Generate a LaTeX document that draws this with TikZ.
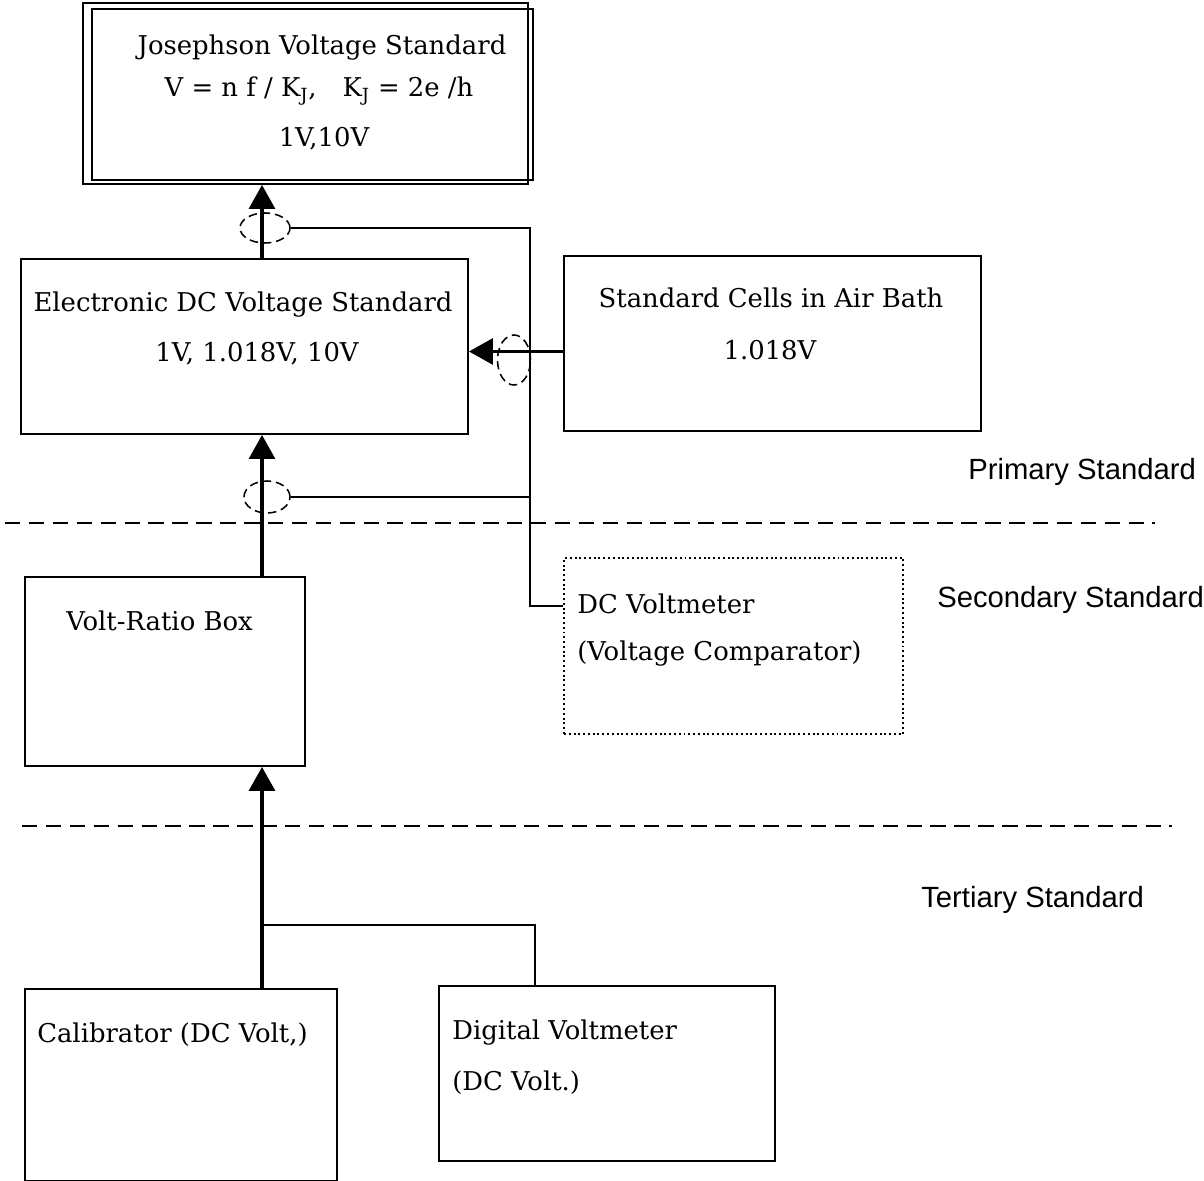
\documentclass[tikz,border=0pt]{standalone}
\usepackage{fontspec}
\setmainfont{DejaVu Serif}
\newfontfamily\lvlfont{Liberation Sans}
\usetikzlibrary{arrows.meta,shapes.geometric,calc}

\tikzset{
  box/.style={draw, line width=1.4pt, anchor=north west, inner sep=0pt},
  boxsize/.style 2 args={minimum width=#1*0.025cm, minimum height=#2*0.025cm},
  txt/.style={inner sep=0pt, font=\fontsize{18.4}{22}\selectfont},
  lvl/.style={inner sep=0pt, anchor=base west, font=\lvlfont\fontsize{20.8}{24}\selectfont},
  ring/.style={draw, ellipse, inner sep=0pt, line width=1.1pt, dash pattern=on 6pt off 3.5pt},
  arr/.style={line width=2.2pt, -{Triangle[length=0.6cm, width=0.65cm]}},
  wire/.style={line width=1.1pt},
  sepline/.style={line width=1.3pt, dash pattern=on 11pt off 6pt},
}

\begin{document}
\begin{tikzpicture}[x=0.025cm, y=-0.025cm]
    \useasboundingbox (0,0) rectangle (1204,1181);

    % Josephson standard (double frame)
    \node[box, boxsize={445}{181}] (jvs) at (82,2) {};
    \draw[line width=1.4pt] ($(jvs.north west)+(10,7)$) rectangle ($(jvs.south east)+(4,-5)$);
    \node[txt, anchor=base] (jvs-1) at (322,55) {Josephson Voltage Standard};
    \node[txt, anchor=base] (jvs-2) at (319,97) {V = n f / K\textsubscript{J},\quad K\textsubscript{J} = 2e /h};
    \node[txt, anchor=base] (jvs-3) at (324,147) {1V,10V};

    % Electronic DC standard and standard cells
    \node[box, boxsize={447}{175}] (edvs) at (20,258) {};
    \node[txt, anchor=base] (edvs-1) at (243,312) {Electronic DC Voltage Standard};
    \node[txt, anchor=base] (edvs-2) at (257,362) {1V, 1.018V, 10V};

    \node[box, boxsize={417}{175}] (cells) at (563,255) {};
    \node[txt, anchor=base] (cells-1) at (771,308) {Standard Cells in Air Bath};
    \node[txt, anchor=base] (cells-2) at (770,360) {1.018V};

    % secondary level
    \node[box, boxsize={280}{189}] (ratio) at (24,576) {};
    \node[txt, anchor=base west] (ratio-1) at (66,630) {Volt-Ratio Box};

    \node[box, dotted, boxsize={339}{176}] (dvm) at (563,557) {};
    \node[txt, anchor=base west] (dvm-1) at (577,613) {DC Voltmeter};
    \node[txt, anchor=base west] (dvm-2) at (577,660) {(Voltage Comparator)};

    % tertiary level
    \node[box, boxsize={312}{192}] (cal) at (24,988) {};
    \node[txt, anchor=base west] (cal-1) at (37,1042) {Calibrator (DC Volt,)};

    \node[box, boxsize={336}{175}] (digi) at (438,985) {};
    \node[txt, anchor=base west] (digi-1) at (452,1039) {Digital Voltmeter};
    \node[txt, anchor=base west] (digi-2) at (452,1090) {(DC Volt.)};

    % level names and dividers
    \node[lvl] (prim) at (968,480) {Primary Standard};
    \node[lvl] (sec) at (937,607) {Secondary Standard};
    \node[lvl] (tert) at (921,907) {Tertiary Standard};
    \draw[sepline] (5,523) -- (1155,523);
    \draw[sepline] (22,826) -- (1172,826);

    % comparison points
    \node[ring, minimum width=1.25cm, minimum height=0.75cm] (ring1) at (265,228) {};
    \node[ring, minimum width=0.825cm, minimum height=1.25cm] (ring2) at (514,360) {};
    \node[ring, minimum width=1.15cm, minimum height=0.8cm] (ring3) at (267,497) {};

    % traceability arrows
    \draw[arr] (edvs.north west) ++(242,0) coordinate (e1) -- (e1 |- jvs.south);
    \draw[arr] ($(cells.west)+(0,8)$) coordinate (c2) -- (c2 -| edvs.east);
    \draw[arr] (ratio.north west) ++(238,0) coordinate (r1) -- (r1 |- edvs.south);
    \draw[arr] (cal.north west) ++(238,0) coordinate (c1) -- (c1 |- ratio.south);

    % voltmeter bus
    \coordinate (bus) at (530,606);
    \draw[wire] (ring1.east) -| (bus) -- (bus -| dvm.west);
    \draw[wire] (ring3.east) -- (ring3.east -| bus);

    % tertiary branch
    \coordinate (d1) at ($(digi.north west)+(97,0)$);
    \draw[wire, line width=1.4pt] (d1) |- (c1 |- 0,925);
\end{tikzpicture}
\end{document}
